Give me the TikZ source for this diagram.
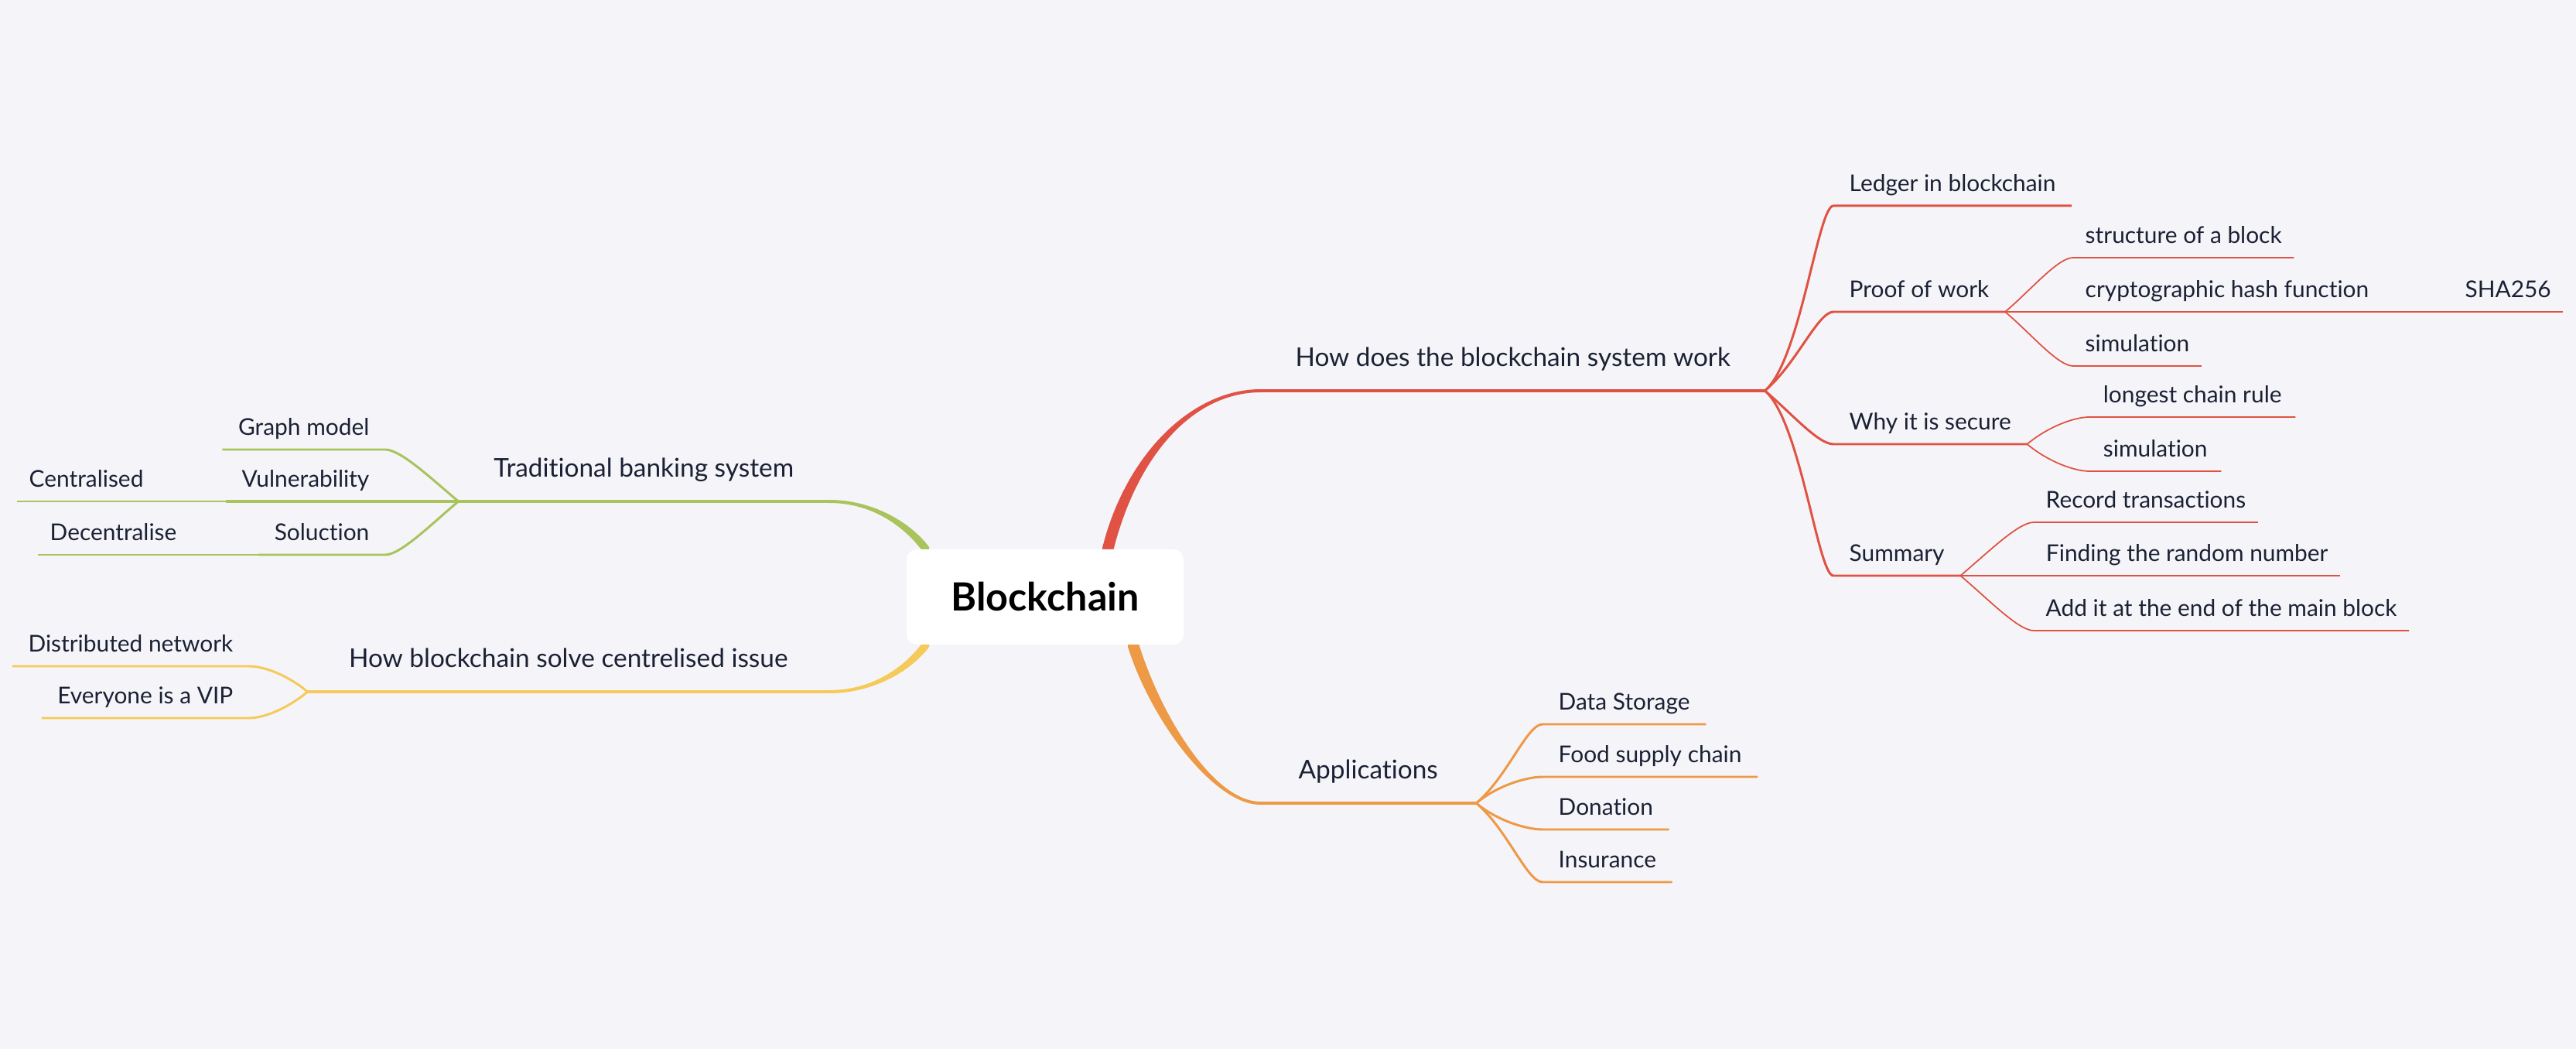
\documentclass[tikz,border=0pt]{standalone}
\usepackage{fontspec}
\setmainfont{Lato}[Ligatures=NoCommon]
\usetikzlibrary{positioning,calc}

\definecolor{bgcol}{RGB}{245,245,249}
\definecolor{inkcol}{RGB}{27,33,52}
\definecolor{redbr}{RGB}{224,82,67}
\definecolor{orangebr}{RGB}{237,153,69}
\definecolor{greenbr}{RGB}{169,195,93}
\definecolor{yellowbr}{RGB}{245,202,90}

\begin{document}
\begin{tikzpicture}[
    root/.style={rectangle, rounded corners=0.13cm, fill=white, minimum width=3.58cm, minimum height=1.23cm, font=\fontsize{14.3}{17}\selectfont\bfseries, text=black},
    topic/.style={inner xsep=0.35cm, inner ysep=0.31cm, text height=0.24cm, text depth=0pt, font=\fontsize{9.5}{11.4}\selectfont, text=inkcol},
    sub/.style={inner xsep=0.2cm, inner ysep=0.18cm, text height=0.21cm, text depth=0pt, font=\fontsize{8.5}{10.2}\selectfont, text=inkcol},
    leaf/.style={sub, inner xsep=0.15cm},
    rup/.style={out=40, in=180, out max distance=0.6cm, in max distance=0.2cm},
    rdown/.style={out=-40, in=180, out max distance=0.6cm, in max distance=0.2cm},
    lup/.style={out=140, in=0, out max distance=0.6cm, in max distance=0.2cm},
    ldown/.style={out=-140, in=0, out max distance=0.6cm, in max distance=0.2cm},
]
    \fill[bgcol, use as bounding box] (0,0) rectangle (33.30,13.56);

    % main topics
    \node[topic, anchor=south west, minimum width=6.50cm] (how) at (16.30,8.51) {How does the blockchain system work};
    \node[topic, anchor=south west, minimum width=2.78cm] (apps) at (16.29,3.18) {Applications};
    \node[topic, anchor=south east, minimum width=4.78cm] (trad) at (10.72,7.08) {Traditional banking system};
    \node[topic, anchor=south east, minimum width=6.73cm] (solve) at (10.72,4.62) {How blockchain solve centrelised issue};

    % thick branches out of the centre
    \fill[redbr] (14.25,6.28) -- (14.25,6.48) .. controls (14.55,7.68) and (15.40,8.53) .. ($(how.south west)+(0,0.02)$)
        -- ($(how.south west)+(0,-0.02)$) .. controls (15.40,8.49) and (14.69,7.64) .. (14.39,6.44) -- (14.39,6.24) -- cycle;
    \fill[orangebr] (14.58,5.40) -- (14.58,5.20) .. controls (14.88,4.24) and (15.70,3.16) .. ($(apps.south west)+(0,-0.02)$)
        -- ($(apps.south west)+(0,0.02)$) .. controls (15.70,3.20) and (15.02,4.28) .. (14.72,5.24) -- (14.72,5.44) -- cycle;
    \fill[greenbr] (12.01,6.29) -- (12.01,6.49) .. controls (11.79,6.79) and (11.30,7.10) .. ($(trad.south east)+(0,0.02)$)
        -- ($(trad.south east)+(0,-0.02)$) .. controls (11.30,7.06) and (11.71,6.73) .. (11.93,6.43) -- (11.93,6.23) -- cycle;
    \fill[yellowbr] (12.01,5.40) -- (12.01,5.20) .. controls (11.79,4.90) and (11.30,4.60) .. ($(solve.south east)+(0,-0.02)$)
        -- ($(solve.south east)+(0,0.02)$) .. controls (11.30,4.64) and (11.71,4.96) .. (11.93,5.26) -- (11.93,5.46) -- cycle;

    \node[root] (root) at (13.51,5.845) {Blockchain};

    \draw[redbr, line width=1.15pt] (how.south west) -- (how.south east);
    \draw[orangebr, line width=1.15pt] (apps.south west) -- (apps.south east);
    \draw[greenbr, line width=1.15pt] (trad.south east) -- (trad.south west);
    \draw[yellowbr, line width=1.15pt] (solve.south east) -- (solve.south west);

    % how does it work
    \node[sub, anchor=south west, minimum width=3.06cm] (ledger) at (23.70,10.90) {Ledger in blockchain};
    \node[sub, anchor=south west, minimum width=2.09cm] (proof) at (23.70,9.53) {Proof of work};
    \node[sub, anchor=south west, minimum width=2.37cm] (secure) at (23.70,7.82) {Why it is secure};
    \node[sub, anchor=south west, minimum width=1.61cm] (summary) at (23.70,6.12) {Summary};

    \node[leaf, anchor=south west, minimum width=2.74cm] (struct) at (26.80,10.23) {structure of a block};
    \node[leaf, anchor=south west, minimum width=3.94cm] (crypto) at (26.80,9.53) {cryptographic hash function};
    \node[leaf, right=0.93cm of crypto, minimum width=1.39cm] (sha) {SHA256};
    \node[leaf, anchor=south west, minimum width=1.62cm] (simpow) at (26.80,8.83) {simulation};
    \node[leaf, anchor=south west, minimum width=2.65cm] (longest) at (27.01,8.17) {longest chain rule};
    \node[leaf, anchor=south west, minimum width=1.69cm] (simsec) at (27.01,7.47) {simulation};
    \node[leaf, anchor=south west, minimum width=2.86cm] (record) at (26.29,6.81) {Record transactions};
    \node[leaf, anchor=south west, minimum width=3.95cm] (finding) at (26.29,6.12) {Finding the random number};
    \node[leaf, anchor=south west, minimum width=4.76cm] (addit) at (26.29,5.41) {Add it at the end of the main block};

    \draw[redbr, line width=0.85pt] (how.south east) to[rup] (ledger.south west) -- (ledger.south east);
    \draw[redbr, line width=0.85pt] (how.south east) to[rup] (proof.south west) -- (proof.south east);
    \draw[redbr, line width=0.85pt] (how.south east) to[rdown] (secure.south west) -- (secure.south east);
    \draw[redbr, line width=0.85pt] (how.south east) to[rdown] (summary.south west) -- (summary.south east);

    \draw[redbr, line width=0.5pt] (proof.south east) to[rup] (struct.south west) -- (struct.south east);
    \draw[redbr, line width=0.5pt] (proof.south east) -- (crypto.south west) -- (crypto.south east) -- (sha.south west) -- (sha.south east);
    \draw[redbr, line width=0.5pt] (proof.south east) to[rdown] (simpow.south west) -- (simpow.south east);
    \draw[redbr, line width=0.5pt] (secure.south east) to[rup] (longest.south west) -- (longest.south east);
    \draw[redbr, line width=0.5pt] (secure.south east) to[rdown] (simsec.south west) -- (simsec.south east);
    \draw[redbr, line width=0.5pt] (summary.south east) to[rup] (record.south west) -- (record.south east);
    \draw[redbr, line width=0.5pt] (summary.south east) -- (finding.south west) -- (finding.south east);
    \draw[redbr, line width=0.5pt] (summary.south east) to[rdown] (addit.south west) -- (addit.south east);

    % applications
    \node[sub, anchor=south west, minimum width=2.04cm] (data) at (19.94,4.20) {Data Storage};
    \node[sub, anchor=south west, minimum width=2.70cm] (food) at (19.94,3.52) {Food supply chain};
    \node[sub, anchor=south west, minimum width=1.56cm] (donation) at (19.94,2.84) {Donation};
    \node[sub, anchor=south west, minimum width=1.61cm] (insurance) at (19.94,2.16) {Insurance};

    \draw[orangebr, line width=0.85pt] (apps.south east) to[rup] (data.south west) -- (data.south east);
    \draw[orangebr, line width=0.85pt] (apps.south east) to[rup] (food.south west) -- (food.south east);
    \draw[orangebr, line width=0.85pt] (apps.south east) to[rdown] (donation.south west) -- (donation.south east);
    \draw[orangebr, line width=0.85pt] (apps.south east) to[rdown] (insurance.south west) -- (insurance.south east);

    % traditional banking
    \node[sub, anchor=south east, minimum width=2.09cm] (graph) at (4.98,7.75) {Graph model};
    \node[sub, anchor=south east, minimum width=1.97cm] (vuln) at (4.98,7.08) {Vulnerability};
    \node[sub, anchor=south east, minimum width=1.57cm] (soluc) at (4.98,6.39) {Soluction};
    \node[leaf, anchor=south west] (central) at (0.22,7.08) {Centralised};
    \node[leaf, anchor=south west] (decentral) at (0.49,6.39) {Decentralise};

    \draw[greenbr, line width=0.85pt] (trad.south west) to[lup] (graph.south east) -- (graph.south west);
    \draw[greenbr, line width=1.1pt] (trad.south west) -- (vuln.south east) -- (vuln.south west);
    \draw[greenbr, line width=0.85pt] (trad.south west) to[ldown] (soluc.south east) -- (soluc.south west);
    \draw[greenbr, line width=0.5pt] (vuln.south west) -- (central.south east) -- (central.south west);
    \draw[greenbr, line width=0.5pt] (soluc.south west) -- (decentral.south east) -- (decentral.south west);

    % centralised issue
    \node[sub, anchor=south east, minimum width=2.92cm] (distnet) at (3.22,4.95) {Distributed network};
    \node[sub, anchor=south east, minimum width=2.54cm] (vip) at (3.22,4.28) {Everyone is a VIP};

    \draw[yellowbr, line width=0.85pt] (solve.south west) to[lup] (distnet.south east) -- (distnet.south west);
    \draw[yellowbr, line width=0.85pt] (solve.south west) to[ldown] (vip.south east) -- (vip.south west);
\end{tikzpicture}
\end{document}
